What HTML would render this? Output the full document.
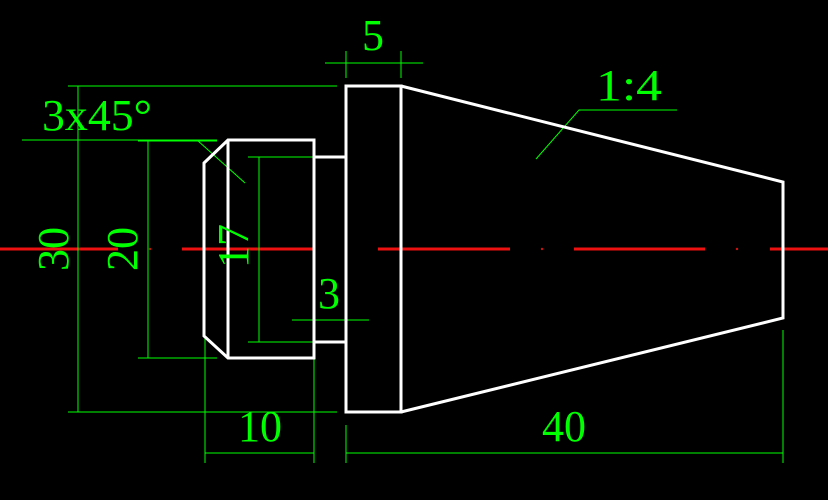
<!DOCTYPE html>
<html><head><style>
html,body{margin:0;padding:0;background:#000;width:828px;height:500px;overflow:hidden}
svg text{font-family:"Liberation Serif",serif;fill:#00ff00}
</style></head><body>
<svg width="828" height="500" viewBox="0 0 828 500" xmlns="http://www.w3.org/2000/svg">
<!-- centerline -->
<g stroke="#ee1111" stroke-width="3" fill="none">
<line x1="0" y1="249" x2="118" y2="249"/>
<line x1="182" y1="249" x2="313" y2="249"/>
<line x1="378" y1="249" x2="510" y2="249"/>
<line x1="574" y1="249" x2="705" y2="249"/>
<line x1="770" y1="249" x2="828" y2="249"/>
</g>
<g fill="#cc1111"><circle cx="150" cy="249" r="1.2"/><circle cx="346" cy="249" r="1.2"/><circle cx="542" cy="249" r="1.2"/><circle cx="737" cy="249" r="1.2"/></g>
<!-- green dims -->
<g stroke="#00ff00" stroke-width="1" fill="none">
<line x1="68" y1="86" x2="337" y2="86"/>
<line x1="68" y1="412" x2="337" y2="412"/>
<line x1="78" y1="86" x2="78" y2="412"/>
<line x1="22" y1="140" x2="217" y2="140"/>
<line x1="138" y1="141" x2="217" y2="141"/>
<line x1="138" y1="358" x2="217" y2="358"/>
<line x1="148" y1="141" x2="148" y2="358"/>
<line x1="248" y1="157" x2="346" y2="157"/>
<line x1="248" y1="342" x2="346" y2="342"/>
<line x1="259" y1="157" x2="259" y2="342"/>
<line x1="292" y1="320" x2="369" y2="320"/>
<line x1="197" y1="140" x2="245" y2="183"/>
<line x1="205" y1="288" x2="205" y2="463"/>
<line x1="314" y1="358" x2="314" y2="463"/>
<line x1="205" y1="453" x2="314" y2="453"/>
<line x1="346" y1="425" x2="346" y2="463"/>
<line x1="783" y1="330" x2="783" y2="463"/>
<line x1="346" y1="453" x2="783" y2="453"/>
<line x1="325" y1="63" x2="423" y2="63"/>
<line x1="346" y1="51" x2="346" y2="78"/>
<line x1="401" y1="51" x2="401" y2="78"/>
<polyline points="536,159 579,110 677,110"/>
</g>
<!-- white part -->
<g stroke="#fff" stroke-width="3" fill="none" stroke-linejoin="miter">
<polygon points="204,163 228,140 314,140 314,358 228,358 204,336"/>
<line x1="228" y1="140" x2="228" y2="358"/>
<line x1="314" y1="157" x2="346" y2="157"/>
<line x1="314" y1="342" x2="346" y2="342"/>
<rect x="346" y="86" width="55" height="326"/>
<polyline points="401,86 783,182 783,318 401,412"/>
</g>
<!-- text -->
<text x="42" y="130" font-size="44" textLength="110" lengthAdjust="spacingAndGlyphs">3x45°</text>
<text x="362" y="50" font-size="44">5</text>
<text x="596" y="100" font-size="44" textLength="66" lengthAdjust="spacingAndGlyphs">1:4</text>
<text x="318" y="308" font-size="44">3</text>
<text x="238" y="441" font-size="44">10</text>
<text x="542" y="441" font-size="44">40</text>
<text transform="translate(68,271) rotate(-90)" font-size="44">30</text>
<text transform="translate(137,271) rotate(-90)" font-size="44">20</text>
<text transform="translate(248,268) rotate(-90)" font-size="44">17</text>
</svg>
</body></html>
